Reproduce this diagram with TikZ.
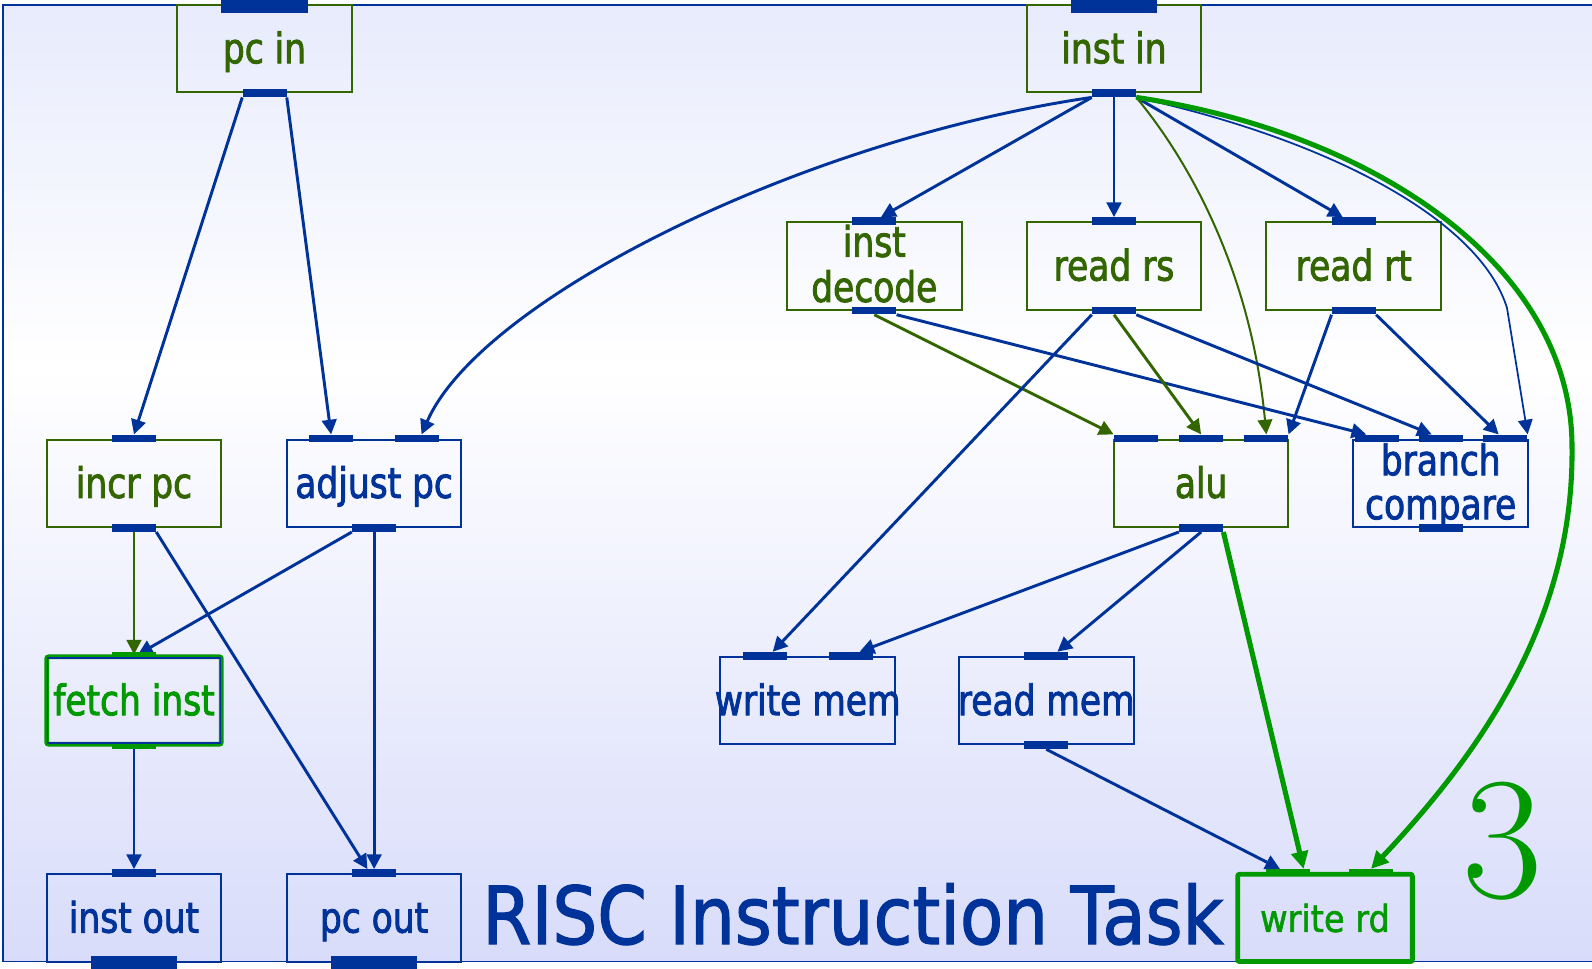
\documentclass[tikz,border=0pt]{standalone}
\usepackage{fontspec}
\usetikzlibrary{arrows.meta,calc}
\newfontfamily\boxfont[FakeStretch=0.82,FakeBold=2]{DejaVu Sans}
\newfontfamily\rdfont[FakeStretch=0.9,FakeBold=1.5]{DejaVu Sans}
\newfontfamily\titlefont[FakeStretch=0.885,FakeBold=1.5]{DejaVu Sans}
\definecolor{taskblue}{HTML}{003399}
\definecolor{taskolive}{HTML}{336600}
\definecolor{taskgreen}{HTML}{009900}
\definecolor{bgtop}{RGB}{232,235,252}
\definecolor{bgbot}{RGB}{216,220,250}
\pgfdeclareverticalshading{taskbg}{100bp}{color(0bp)=(bgbot); color(25bp)=(bgbot); color(56bp)=(white); color(75bp)=(bgtop); color(100bp)=(bgtop)}
% labels sit at a fixed baseline below the box centre, whatever their width
\newcommand\oneline[1]{\smash{\makebox[0pt]{\raisebox{-11pt}{#1}}}}
\newcommand\twoline[2]{\smash{\makebox[0pt]{\raisebox{-27pt}{\begin{tabular}[b]{@{}c@{}}#1\\#2\end{tabular}}}}}
\tikzset{
  box/.style={rectangle, minimum width=131pt, minimum height=65.5pt, inner sep=0pt,
    line width=1.5pt, font={\boxfont\fontsize{31.5}{33}\selectfont}},
  cbox/.style={box, draw=taskolive, text=taskolive},
  dbox/.style={box, draw=taskblue, text=taskblue},
  hbox/.style={box, draw=taskgreen, text=taskgreen, line width=3.6pt, rounded corners=1.5pt},
  port/.style={rectangle, fill=taskblue, inner sep=0pt, minimum width=33pt, minimum height=5.8pt},
  bigport/.style={port, minimum width=65pt, minimum height=10.5pt},
  gport/.style={port, fill=taskgreen, minimum height=4pt},
  tip/.style={-{Triangle[length=11pt,width=11pt]}},
  flow/.style={draw=taskblue, line width=2.2pt, tip},
  flowthin/.style={flow, line width=1.3pt},
  ctl/.style={draw=taskolive, line width=2.2pt, tip},
  ctlthin/.style={ctl, line width=1.5pt},
  hot/.style={draw=taskgreen, line width=3.8pt, -{Triangle[length=13pt,width=12.5pt]}},
}
\begin{document}
\begin{tikzpicture}[x=0.75pt, y=-0.75pt]
\useasboundingbox (0,0) rectangle (1592,968);
\clip (0,0) rectangle (1592,968);

% task frame
\shade[shading=taskbg] (3,5) rectangle (1600,961.5);
\draw[taskblue, line width=1.3pt] (3,5) rectangle (1600,961.5);

\node[text=taskblue, font={\titlefont\fontsize{60}{60}\selectfont}, anchor=base west, inner sep=0pt]
  (title) at (482,944) {RISC Instruction Task};
\node[text=taskgreen, font={\fontsize{131}{131}\selectfont}, anchor=base, inner sep=0pt]
  (num) at (1503,897) {3};

% sub-tasks
\node[cbox] (pcin)   at (264.5,48.6)  {\oneline{pc in}};
\node[cbox] (instin) at (1114,48.6)   {\oneline{inst in}};
\node[cbox] (dec)    at (874.3,265.9) {\twoline{inst}{decode}};
\node[cbox] (rs)     at (1114,265.9)  {\oneline{read rs}};
\node[cbox] (rt)     at (1353.8,265.9){\oneline{read rt}};
\node[cbox] (inc)    at (134,483.2)   {\oneline{incr pc}};
\node[dbox] (adj)    at (374.1,483.2) {\oneline{adjust pc}};
\node[cbox] (alu)    at (1201.1,483.2){\oneline{alu}};
\node[dbox] (br)     at (1440.7,483.2){\twoline{branch}{compare}};
\node[hbox] (fi)     at (134,700.5)   {\oneline{fetch inst}};
\draw[taskblue, line width=1.2pt] ([shift={(2.5pt,-2.5pt)}]fi.north west) rectangle ([shift={(-2.5pt,2.5pt)}]fi.south east);
\node[dbox] (wm)     at (807.7,700.5) {\oneline{write mem}};
\node[dbox] (rm)     at (1046.3,700.5){\oneline{read mem}};
\node[dbox] (io)     at (134,917.9)   {\oneline{inst out}};
\node[dbox] (pco)    at (374.1,917.9) {\oneline{pc out}};
\node[hbox, font={\rdfont\fontsize{28}{28}\selectfont}] (wrd) at (1325,917.9)
  {\smash{\makebox[0pt]{\raisebox{-10.5pt}{write rd}}}};

% ports
\node[bigport] (pcin-i)   at ([yshift=-1.5pt]pcin.north) {};
\node[port]    (pcin-o)   at (pcin.south) {};
\node[bigport] (instin-i) at ([yshift=-1.5pt]instin.north) {};
\node[port]    (instin-o) at (instin.south) {};
\node[port] (dec-i) at (dec.north) {};
\node[port] (dec-o) at (dec.south) {};
\node[port] (rs-i) at (rs.north) {};
\node[port] (rs-o) at (rs.south) {};
\node[port] (rt-i) at (rt.north) {};
\node[port] (rt-o) at (rt.south) {};
\node[port] (inc-i) at (inc.north) {};
\node[port] (inc-o) at (inc.south) {};
\node[port] (adj-i1) at ([xshift=-32.25pt]adj.north) {};
\node[port] (adj-i2) at ([xshift=32.25pt]adj.north) {};
\node[port] (adj-o) at (adj.south) {};
\node[port] (alu-i1) at ([xshift=-48.9pt]alu.north) {};
\node[port] (alu-i2) at (alu.north) {};
\node[port] (alu-i3) at ([xshift=48.9pt]alu.north) {};
\node[port] (alu-o) at (alu.south) {};
\node[port] (br-i1) at ([xshift=-47.5pt]br.north) {};
\node[port] (br-i2) at (br.north) {};
\node[port] (br-i3) at ([xshift=48.5pt]br.north) {};
\node[port] (br-o) at (br.south) {};
\node[port] (wm-i1) at ([xshift=-32.25pt]wm.north) {};
\node[port] (wm-i2) at ([xshift=32.25pt]wm.north) {};
\node[port] (rm-i) at (rm.north) {};
\node[port] (rm-o) at (rm.south) {};
\node[port] (io-i) at (io.north) {};
\node[bigport] (io-o) at (io.south) {};
\node[port] (pco-i) at (pco.north) {};
\node[bigport] (pco-o) at (pco.south) {};
\coordinate (bend) at (1507,308);

% connectors
\draw[flow] (pcin-o.south west) -- (inc-i.north);
\draw[flow] (pcin-o.south east) -- (adj-i1.north);
\draw[flow] (instin-o.south west) .. controls (800,140) and (480,300) .. ($(adj-i2.north west)!0.6!(adj-i2.north east)$);
\draw[flow] (instin-o.south west) -- ($(dec-i.north west)!0.65!(dec-i.north east)$);
\draw[flow] (instin-o.south) -- (rs-i.north);
\draw[flow] (instin-o.south east) -- ($(rt-i.north west)!0.25!(rt-i.north east)$);
\draw[ctlthin] (instin-o.south east) .. controls (1180,150) and (1250,260) .. (alu-i3.north);
\draw[flowthin] (instin-o.south east) .. controls (1330,140) and (1480,220) .. (bend) -- (br-i3.north east);

\draw[ctl] (dec-o.south) -- (alu-i1.north west);
\draw[flow] (dec-o.south east) -- ($(br-i1.north west)!0.25!(br-i1.north east)$);
\draw[flow] (rs-o.south west) -- ($(wm-i1.north west)!0.68!(wm-i1.north east)$);
\draw[ctl] (rs-o.south) -- (alu-i2.north);
\draw[flow] (rs-o.south east) -- ($(br-i2.north west)!0.3!(br-i2.north east)$);
\draw[flow] (rt-o.south west) -- (alu-i3.north east);
\draw[flow] (rt-o.south east) -- ($(br-i3.north west)!0.35!(br-i3.north east)$);

\draw[ctl] (inc-o.south) -- (fi.north);
\draw[flow] (inc-o.south east) -- ($(pco-i.north west)!0.35!(pco-i.north east)$);
\draw[flow] (adj-o.south west) -- ([xshift=3pt]fi.north);
\draw[flow] (adj-o.south) -- (pco-i.north);
\draw[flow] (alu-o.south west) -- ($(wm-i2.north west)!0.7!(wm-i2.north east)$);
\draw[flow] (alu-o.south) -- ($(rm-i.north west)!0.75!(rm-i.north east)$);
\draw[flow] (fi.south) -- (io-i.north);

% highlighted path
\node[gport] (fi-i) at (fi.north) {};
\node[gport] (fi-o) at (fi.south) {};
\node[gport] (wrd-i1) at ([xshift=-27.75pt]wrd.north) {};
\node[gport] (wrd-i2) at ([xshift=34.5pt]wrd.north) {};
\draw[flow] (rm-o.south) -- ($(wrd-i1.north west)!0.32!(wrd-i1.north east)$);
\draw[hot] (alu-o.south east) -- ($(wrd-i1.north west)!0.85!(wrd-i1.north east)$);
\draw[hot] (instin-o.south east) .. controls (1371,132) and (1572,264) .. (1572,447)
  .. controls (1574,619) and (1482,751) .. (wrd-i2.north);
\end{tikzpicture}
\end{document}
